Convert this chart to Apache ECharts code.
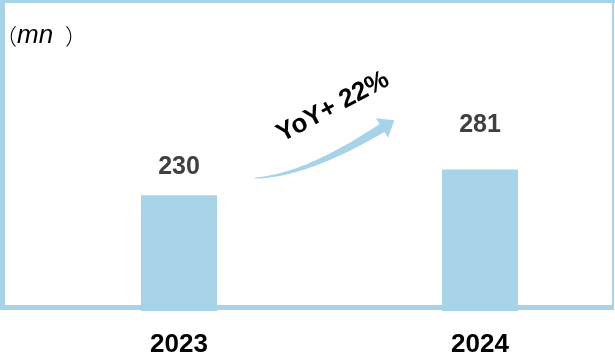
<!DOCTYPE html>
<html>
<head>
<meta charset="utf-8">
<script src="https://cdn.jsdelivr.net/npm/echarts@6/dist/echarts.min.js"></script>
<style>
  html, body { margin: 0; padding: 0; background: #ffffff; }
  #chart { width: 615px; height: 357px; }
</style>
</head>
<body>
<div id="chart"></div>
<script>
// Annual volume, millions of units
const years = ['2023', '2024'];
const volumes = [230, 281];
const growthText = 'YoY+ 22%';
const unitOpen = '（';
const unitText = 'mn';
const unitClose = '）';

const BLUE = '#a6d3e7';
const FONT = "'Liberation Sans', Arial, 'Noto Sans CJK SC', sans-serif";

// Tapered curved arrow: quadratic centreline, widening toward the head
function growthArrow() {
  const p0 = [255, 178], c = [305, 176], p1 = [382, 128];
  const n = 40, top = [], bot = [];
  let endT = null;
  for (let i = 0; i <= n; i++) {
    const t = i / n, s = 1 - t;
    const x = s * s * p0[0] + 2 * s * t * c[0] + t * t * p1[0];
    const y = s * s * p0[1] + 2 * s * t * c[1] + t * t * p1[1];
    const dx = 2 * s * (c[0] - p0[0]) + 2 * t * (p1[0] - c[0]);
    const dy = 2 * s * (c[1] - p0[1]) + 2 * t * (p1[1] - c[1]);
    const len = Math.hypot(dx, dy);
    const nx = dy / len, ny = -dx / len;
    const hw = 0.6 + 4.0 * Math.pow(t, 1.2);
    top.push([x + nx * hw, y + ny * hw]);
    bot.push([x - nx * hw, y - ny * hw]);
    if (i === n) endT = [dx / len, dy / len, nx, ny];
  }
  const [ux, uy, nx, ny] = endT;
  const wing1 = [p1[0] + nx * 11.5, p1[1] + ny * 11.5];
  const tip = [p1[0] + ux * 14.5, p1[1] + uy * 14.5];
  const wing2 = [p1[0] - nx * 11.5, p1[1] - ny * 11.5];
  return top.concat([wing1, tip, wing2], bot.reverse());
}

const chart = echarts.init(document.getElementById('chart'), null, { renderer: 'canvas' });

chart.setOption({
  animation: false,
  backgroundColor: '#ffffff',
  // the plot area runs past the right edge so the two bands sit where the bars belong
  grid: { left: 28.5, width: 602, top: 9, height: 302, containLabel: false, outerBoundsMode: 'none' },
  xAxis: {
    type: 'category',
    data: years,
    axisLine: { show: false },
    axisTick: { show: false },
    axisLabel: {
      margin: 21,
      fontSize: 26,
      fontWeight: 'bold',
      color: '#000000',
      fontFamily: FONT
    }
  },
  yAxis: {
    type: 'value',
    min: 0,
    max: 600,
    show: false,
    splitLine: { show: false }
  },
  series: [{
    type: 'bar',
    z: 5,
    barWidth: 76,
    itemStyle: { color: BLUE },
    label: {
      show: true,
      position: 'top',
      fontSize: 25,
      fontWeight: 'bold',
      color: '#404040',
      fontFamily: FONT
    },
    data: volumes.map((v, i) => ({ value: v, label: { distance: i === 0 ? 16 : 32 } }))
  }],
  graphic: [
    // frame
    { type: 'rect', z: 0, shape: { x: 0, y: 0, width: 615, height: 3 }, style: { fill: BLUE } },
    { type: 'rect', z: 0, shape: { x: 0, y: 0, width: 5, height: 310 }, style: { fill: BLUE } },
    { type: 'rect', z: 0, shape: { x: 612, y: 0, width: 2, height: 310 }, style: { fill: BLUE } },
    { type: 'rect', z: 0, shape: { x: 0, y: 305, width: 614, height: 5 }, style: { fill: BLUE } },
    // unit label
    {
      type: 'text', z: 10, x: 17, y: 36,
      style: { text: unitOpen, fontSize: 22, fontWeight: 300, fontFamily: "'Noto Sans CJK SC', sans-serif", fill: '#000', align: 'right', verticalAlign: 'middle' }
    },
    {
      type: 'text', z: 10, x: 17, y: 36,
      style: { text: unitText, fontSize: 26, fontStyle: 'italic', fontFamily: FONT, fill: '#000', align: 'left', verticalAlign: 'middle' }
    },
    {
      type: 'text', z: 10, x: 65, y: 36,
      style: { text: unitClose, fontSize: 22, fontWeight: 300, fontFamily: "'Noto Sans CJK SC', sans-serif", fill: '#000', align: 'left', verticalAlign: 'middle' }
    },
    // growth arrow and note
    { type: 'polygon', z: 6, shape: { points: growthArrow() }, style: { fill: BLUE } },
    {
      type: 'text', z: 10, x: 333, y: 107, rotation: 28 * Math.PI / 180,
      style: { text: growthText, fontSize: 26, fontWeight: 'bold', fontFamily: FONT, fill: '#000', align: 'center', verticalAlign: 'middle' }
    }
  ]
});
</script>
</body>
</html>
